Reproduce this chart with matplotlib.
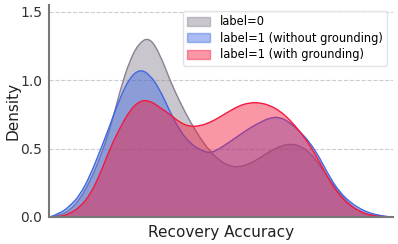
import numpy as np
import matplotlib.pyplot as plt
from matplotlib.path import Path
from matplotlib.patches import PathPatch

acc = np.linspace(0.0, 1.0, 35)

dens_label0 = [0.0, 0.01, 0.05, 0.13, 0.26, 0.43, 0.64, 0.92, 1.15, 1.28,
               1.31, 1.19, 1.00, 0.84, 0.70, 0.58, 0.48, 0.41, 0.37, 0.365,
               0.39, 0.43, 0.48, 0.515, 0.535, 0.52, 0.47, 0.38, 0.27, 0.17,
               0.09, 0.04, 0.015, 0.003, 0.0]
dens_no_ground = [0.0, 0.025, 0.08, 0.16, 0.30, 0.48, 0.67, 0.87, 1.02, 1.08,
                  1.04, 0.93, 0.77, 0.63, 0.54, 0.49, 0.465, 0.50, 0.55, 0.60,
                  0.65, 0.69, 0.725, 0.73, 0.69, 0.625, 0.545, 0.43, 0.29, 0.18,
                  0.11, 0.06, 0.028, 0.01, 0.0]
dens_ground = [0.0, 0.0, 0.025, 0.073, 0.16, 0.31, 0.50, 0.65, 0.78, 0.85,
               0.85, 0.80, 0.75, 0.69, 0.66, 0.665, 0.69, 0.73, 0.775, 0.815,
               0.835, 0.835, 0.815, 0.775, 0.71, 0.625, 0.525, 0.40, 0.26, 0.155,
               0.085, 0.04, 0.013, 0.002, 0.0]

series = [
    ("label=0", dens_label0, "#898191"),
    ("label=1 (without grounding)", dens_no_ground, "#4169e1"),
    ("label=1 (with grounding)", dens_ground, "#f5193d"),
]


def smooth_verts(x, y):
    # quadratic bezier through the midpoints, sample points act as controls
    pts = np.column_stack([x, y])
    verts = [pts[0]]
    codes = [Path.MOVETO]
    for i in range(1, len(pts) - 1):
        mid = (pts[i] + pts[i + 1]) / 2
        if i == len(pts) - 2:
            mid = pts[i + 1]
        verts += [pts[i], mid]
        codes += [Path.CURVE3, Path.CURVE3]
    return verts, codes


fig = plt.figure(figsize=(3.98, 2.44), dpi=100)
ax = fig.add_axes([0.123, 0.111, 0.864, 0.869])

for name, d, c in series:
    verts, codes = smooth_verts(acc, d)
    fill = Path(verts + [(acc[-1], 0), (acc[0], 0), (acc[0], 0)],
                codes + [Path.LINETO, Path.LINETO, Path.CLOSEPOLY])
    ax.add_patch(PathPatch(fill, facecolor=c, alpha=0.45, lw=0, label=name))
    ax.add_patch(PathPatch(Path(verts, codes), facecolor="none",
                           edgecolor=c, lw=1.0))

ax.set_xlim(-0.003, 1.009)
ax.set_ylim(0, 1.55)
ax.set_yticks([0.0, 0.5, 1.0, 1.5])
ax.set_xticks([])
ax.tick_params(axis="y", length=0, labelsize=10, labelcolor="#333333", pad=5)
ax.grid(axis="y", linestyle="--", color="#cccccc", lw=0.8)
ax.set_axisbelow(True)
for s in ["top", "right"]:
    ax.spines[s].set_visible(False)
for s in ["left", "bottom"]:
    ax.spines[s].set_color("#777777")
    ax.spines[s].set_linewidth(1.5)

ax.set_xlabel("Recovery Accuracy", fontsize=11, color="#222222", labelpad=6)
ax.set_ylabel("Density", fontsize=11, color="#222222", labelpad=0)

# legend uses the filled patches
handles, labels = ax.get_legend_handles_labels()
leg = ax.legend(handles, labels, loc="upper right", fontsize=8.3,
                frameon=True, bbox_to_anchor=(1.0, 1.0),
                handlelength=2.0, handleheight=0.8, labelspacing=0.3,
                borderpad=0.4, handletextpad=0.8)
for h, (_, _, c) in zip(leg.legend_handles, series):
    h.set_edgecolor(c)
    h.set_linewidth(1.0)
leg.get_frame().set_edgecolor("#dddddd")

fig.savefig("out.png", dpi=100)
